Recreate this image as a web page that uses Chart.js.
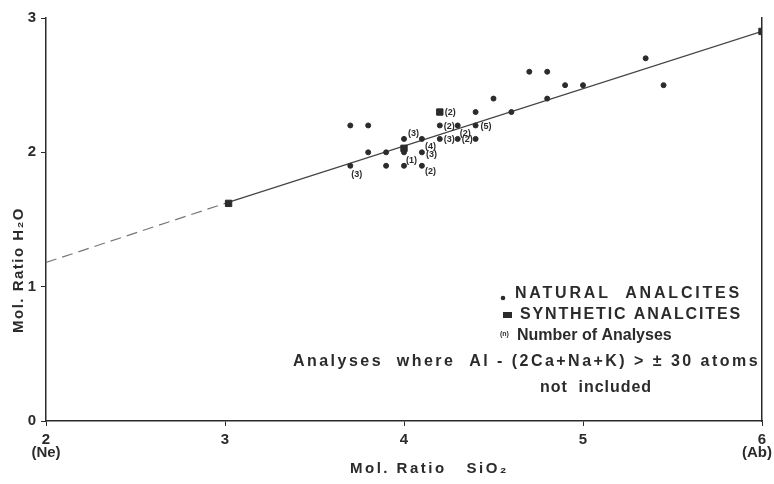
<!DOCTYPE html>
<html>
<head>
<meta charset="utf-8">
<script src="https://cdn.jsdelivr.net/npm/chart.js@4/dist/chart.umd.min.js"></script>
<style>
  html, body { margin: 0; padding: 0; background: #fff; }
  #wrap { width: 774px; height: 484px; }
</style>
</head>
<body>
<div id="wrap"><canvas id="myChart" width="774" height="484"></canvas></div>
<script>
// natural analcites (mol. ratio SiO2, mol. ratio H2O) and number of analyses
var naturalX = [3.7, 3.7, 3.8, 3.8, 3.9, 3.9, 4.0, 4.0, 4.0, 4.1, 4.1, 4.1, 4.2, 4.2, 4.3, 4.3, 4.4, 4.4, 4.4, 4.5, 4.6, 4.7, 4.8, 4.8, 4.9, 5.0, 5.35, 5.45];
var naturalY = [1.9, 2.2, 2.2, 2.0, 2.0, 1.9, 1.9, 2.0, 2.1, 2.1, 2.0, 1.9, 2.2, 2.1, 2.2, 2.1, 2.1, 2.3, 2.2, 2.4, 2.3, 2.6, 2.6, 2.4, 2.5, 2.5, 2.7, 2.5];
var naturalCount = [3, null, null, null, null, null, null, 1, 3, 4, 3, 2, 2, 3, 2, 2, null, null, 5, null, null, null, null, null, null, null, null, null];

// synthetic analcites
var synthX = [3.02, 4.0, 4.2, 6.0];
var synthY = [1.62, 2.03, 2.3, 2.9];
var synthCount = [null, null, 2, null];

// fitted line and its dashed extension towards Ne
var fitX = [3, 6];
var fitY = [1.62, 2.9];
var extX = [2, 3];
var extY = [1.18, 1.62];

var xNotes = ['(Ne)', '(Ab)'];

function pts(xs, ys) {
  return xs.map(function (x, i) { return { x: x, y: ys[i] }; });
}

// where each "(n)" goes relative to its mark
var countShift = {
  '0-0': [1, 9], '0-7': [2, 8], '0-8': [4, -5], '0-9': [3, 8], '0-10': [4, 2],
  '0-11': [3, 6], '0-12': [4, 1], '0-13': [4, 1], '0-14': [2, 8], '0-15': [4, 1],
  '0-18': [5, 1], '1-2': [5, 0]
};
var counts = [naturalCount, synthCount];

var ink = '#2b2b2b';
var FONT = '"Liberation Sans"';
var bold = 'bold 15px ' + FONT;
var big = 'bold 16px ' + FONT;

// spread a string between x1 and x2 with letter spacing
function spread(c, text, x1, x2, y) {
  c.letterSpacing = '0px';
  var w = c.measureText(text).width;
  var ls = Math.max(0, (x2 - x1 - w) / text.length);
  c.letterSpacing = ls + 'px';
  c.textAlign = 'left';
  c.fillText(text, x1, y);
  c.letterSpacing = '0px';
}

var notes = {
  id: 'notes',
  afterDatasetsDraw: function (chart) {
    var c = chart.ctx;
    c.save();
    c.fillStyle = ink;
    c.font = 'bold 9px ' + FONT;
    c.textBaseline = 'middle';
    [0, 1].forEach(function (d) {
      var meta = chart.getDatasetMeta(d);
      counts[d].forEach(function (n, i) {
        if (n == null) return;
        var p = meta.data[i];
        var s = countShift[d + '-' + i] || [4, 1];
        c.fillText('(' + n + ')', p.x + s[0], p.y + s[1]);
      });
    });
    c.restore();
  },
  afterDraw: function (chart) {
    var c = chart.ctx;
    var xs = chart.scales.x;
    c.save();
    c.fillStyle = ink;
    c.textBaseline = 'middle';
    c.font = bold;

    // end notes under the x axis
    c.textAlign = 'center';
    c.fillText(xNotes[0], xs.getPixelForValue(2), 453);
    c.fillText(xNotes[1], xs.getPixelForValue(6) - 5, 453);

    // axis titles
    spread(c, 'Mol. Ratio   SiO₂', 350, 509, 469);
    c.save();
    c.translate(19, 333);
    c.rotate(-Math.PI / 2);
    spread(c, 'Mol. Ratio H₂O', 0, 126, 0);
    c.restore();

    // legend
    c.font = big;
    c.beginPath();
    c.arc(503, 298, 2.3, 0, Math.PI * 2);
    c.fill();
    spread(c, 'NATURAL  ANALCITES', 515, 742, 294);
    c.fillRect(503, 312, 9, 6);
    spread(c, 'SYNTHETIC ANALCITES', 520, 742, 315);
    spread(c, 'Number of Analyses', 517, 666, 336);
    c.font = 'bold 7px ' + FONT;
    c.fillText('(n)', 500, 334);
    c.font = big;
    spread(c, 'Analyses  where  Al - (2Ca+Na+K) > ± 30 atoms', 293, 760, 362);
    spread(c, 'not  included', 540, 652, 388);
    c.restore();
  }
};

var ctx = document.getElementById('myChart').getContext('2d');
var myChart = new Chart(ctx, {
  type: 'scatter',
  data: {
    datasets: [{
      label: 'Natural analcites',
      data: pts(naturalX, naturalY),
      backgroundColor: ink,
      borderColor: ink,
      pointRadius: 2.5,
      pointHoverRadius: 2.5
    }, {
      label: 'Synthetic analcites',
      data: pts(synthX, synthY),
      backgroundColor: ink,
      borderColor: ink,
      pointStyle: 'rect',
      pointRadius: 4.5,
      pointHoverRadius: 4.5
    }, {
      type: 'line',
      label: 'fit',
      data: pts(fitX, fitY),
      borderColor: '#444',
      borderWidth: 1.3,
      pointRadius: 0,
      fill: false
    }, {
      type: 'line',
      label: 'extension',
      data: pts(extX, extY),
      borderColor: '#777',
      borderWidth: 1.2,
      borderDash: [11, 6],
      pointRadius: 0,
      fill: false
    }]
  },
  options: {
    responsive: false,
    animation: false,
    events: [],
    layout: { padding: { top: 18, right: 0, left: 0, bottom: 0 } },
    plugins: { legend: { display: false }, tooltip: { enabled: false } },
    scales: {
      x: {
        type: 'linear',
        min: 2,
        max: 6,
        ticks: {
          stepSize: 1,
          padding: 5,
          color: ink,
          font: { family: 'Liberation Sans', size: 15, weight: 'bold' }
        },
        grid: { drawOnChartArea: false, tickLength: 5, color: ink },
        border: { color: ink, width: 1.5 },
        afterFit: function (s) { s.height = 63; s.paddingRight = 12; s.paddingLeft = 0; }
      },
      y: {
        min: 0,
        max: 3,
        ticks: {
          stepSize: 1,
          padding: 5,
          color: ink,
          font: { family: 'Liberation Sans', size: 15, weight: 'bold' }
        },
        grid: { drawOnChartArea: false, tickLength: 5, color: ink },
        border: { color: ink, width: 1.5 },
        afterFit: function (s) { s.width = 46; s.paddingTop = 0; s.paddingBottom = 0; }
      },
      yr: {
        position: 'right',
        min: 0,
        max: 3,
        ticks: { display: false },
        grid: { display: false },
        border: { color: ink, width: 1.5 },
        afterFit: function (s) { s.width = 0; }
      }
    }
  },
  plugins: [notes]
});
</script>
</body>
</html>
